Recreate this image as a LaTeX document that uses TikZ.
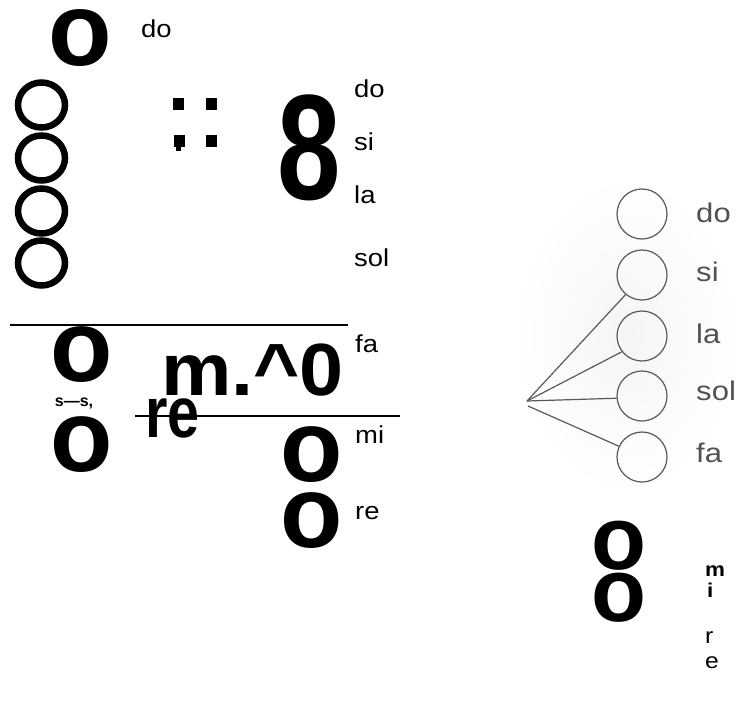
\documentclass[tikz,border=0pt]{standalone}
\usepackage{fontspec}
\setmainfont{Liberation Sans}
\usetikzlibrary{shapes.geometric}
\begin{document}
\begin{tikzpicture}[x=1pt,y=-1pt,
  bigo/.style={inner sep=0pt,font=\fontsize{102}{102}\selectfont\bfseries},
  smallo/.style={inner sep=0pt,font=\fontsize{90}{90}\selectfont\bfseries},
  lab/.style={inner sep=0pt,anchor=base west,xscale=1.12,font=\fontsize{24.5}{24.5}\selectfont},
  rlab/.style={inner sep=0pt,anchor=base west,xscale=1.15,text=black!68,font=\fontsize{27}{27}\selectfont},
  ring/.style={draw,ellipse,line width=6.5pt,minimum width=47pt,minimum height=45pt,inner sep=0pt},
  sq/.style={fill=black,inner sep=0pt,minimum width=11pt,minimum height=12pt},
  circ/.style={draw=black!65,line width=1.2pt,circle,minimum size=50pt,inner sep=0pt},
  spoke/.style={draw=black!65,line width=1.2pt},
  rule/.style={line width=1.6pt}]
\useasboundingbox (0,0) rectangle (738,706);
% ---- left part ----
\node[bigo,font=\fontsize{104}{104}\selectfont\bfseries] (o1) at (80,38) {o};
\node[lab] (l0) at (141,38) {do};
\node[ring] (e1) at (41.5,105) {};
\node[ring] (e2) at (41.5,158) {};
\node[ring] (e3) at (41.5,211) {};
\node[ring] (e4) at (41.5,263) {};
\node[sq] (q1) at (178,104) {};
\node[sq] (q2) at (211,104) {};
\node[sq] (q3) at (179,141) {};
\fill (q3.south east) ++(-4,0) rectangle ++(-5,4);
\node[sq] (q4) at (211,141) {};
\node[inner sep=0pt,xscale=0.76,font=\fontsize{150}{150}\selectfont\bfseries] (eight) at (309,148) {8};
\node[lab] (l1) at (354,98) {do};
\node[lab] (l2) at (354,150) {si};
\node[lab] (l3) at (354,203) {la};
\node[lab] (l4) at (354,266) {sol};
\coordinate (r1a) at (10,325);
\coordinate (r1b) at (348,325);
\draw[rule] (r1a) -- (r1b);
\node[bigo] (o2) at (82,355) {o};
\node[inner sep=0pt,font=\fontsize{16}{16}\selectfont\bfseries] (ss) at (74,403) {s---s,};
\node[bigo] (o3) at (82,445) {o};
\node[inner sep=0pt,anchor=base west,xscale=1.07,font=\fontsize{74}{74}\selectfont\bfseries] (m0) at (161,395) {m.\^{}0};
\node[inner sep=0pt,anchor=base west,xscale=0.8,font=\fontsize{72}{72}\selectfont\bfseries] (re1) at (145,437) {re};
\coordinate (r2a) at (135,416);
\coordinate (r2b) at (400,416);
\draw[rule] (r2a) -- (r2b);
\node[lab] (l5) at (355,352) {fa};
\node[lab] (l6) at (355,443) {mi};
\node[bigo] (o4) at (312,455) {o};
\node[bigo] (o5) at (312,521) {o};
\node[lab] (l7) at (355,519) {re};
% ---- right part ----
\shade[inner color=black!4,outer color=white] (515,175) rectangle (738,495);
\node[circ] (c1) at (642,214) {};
\node[circ] (c2) at (642,275) {};
\node[circ] (c3) at (642,336) {};
\node[circ] (c4) at (642,396) {};
\node[circ] (c5) at (642,457) {};
\node[rlab] (d1) at (696,222) {do};
\node[rlab] (d2) at (696,281) {si};
\node[rlab] (d3) at (696,343) {la};
\node[rlab] (d4) at (696,400) {sol};
\node[rlab] (d5) at (696,462) {fa};
\coordinate (hub) at (527,401);
\coordinate (hubb) at (528,406);
\draw[spoke] (hub) -- (c2.230);
\draw[spoke] (hub) -- (c3.218);
\draw[spoke] (hub) -- (c4.185);
\draw[spoke] (hubb) -- (c5.155);
\node[smallo] (o6) at (619,546) {o};
\node[smallo] (o7) at (619,598) {o};
\node[lab,xscale=1,font=\fontsize{20}{20}\selectfont\bfseries] (m1) at (705,576) {m};
\node[lab,xscale=1,font=\fontsize{20}{20}\selectfont\bfseries] (i1) at (707,597) {i};
\node[lab,xscale=1,font=\fontsize{22}{22}\selectfont] (r1) at (705,643) {r};
\node[lab,xscale=1,font=\fontsize{22}{22}\selectfont] (e1x) at (705,668) {e};
\end{tikzpicture}
\end{document}
